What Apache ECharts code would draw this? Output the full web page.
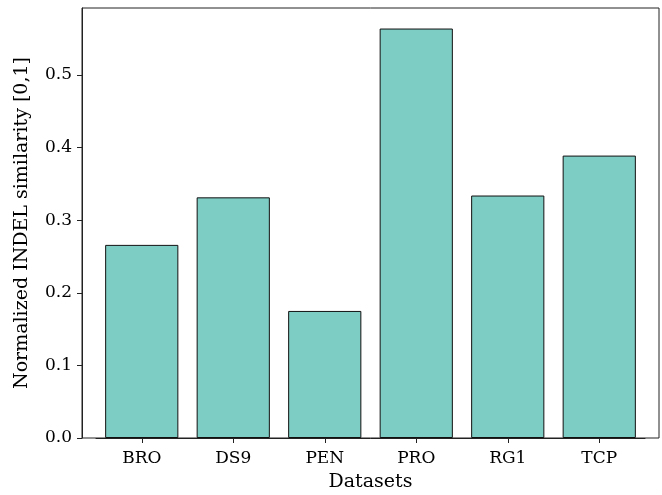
<!DOCTYPE html>
<html>
<head>
<meta charset="utf-8">
<script src="https://cdn.jsdelivr.net/npm/echarts@6/dist/echarts.min.js"></script>
<style>
html,body{margin:0;padding:0;background:#fff;}
#chart{width:662px;height:495px;}
</style>
</head>
<body>
<div id="chart"></div>
<script>
const categories = ['BRO', 'DS9', 'PEN', 'PRO', 'RG1', 'TCP'];
const similarity = [0.266, 0.3315, 0.175, 0.564, 0.334, 0.389];
const yTicks = [0.0, 0.1, 0.2, 0.3, 0.4, 0.5];

const FONT = 'DejaVu Serif';
const yMax = 0.5923;
const chart = echarts.init(document.getElementById('chart'), null, {renderer: 'canvas'});
chart.setOption({
  animation: false,
  backgroundColor: '#fff',
  grid: [
    {left: 82, top: 8, width: 577, height: 430, containLabel: false, outerBoundsMode: 'none',
     show: true, borderColor: '#222', borderWidth: 1, backgroundColor: 'transparent'},
    {left: 96, top: 8, width: 549, height: 430, containLabel: false, outerBoundsMode: 'none'}
  ],
  xAxis: [
    {
      gridIndex: 0, type: 'value', min: 0, max: 1,
      axisLine: {show: false}, axisTick: {show: false}, axisLabel: {show: false}, splitLine: {show: false},
      name: 'Datasets', nameLocation: 'middle', nameGap: 35,
      nameTextStyle: {fontFamily: FONT, fontSize: 19, color: '#000'}
    },
    {
      gridIndex: 1, type: 'category', data: categories,
      axisLine: {show: true, lineStyle: {color: '#222', width: 1}},
      axisTick: {show: true, alignWithLabel: true, length: 5, lineStyle: {color: '#222'}},
      axisLabel: {fontFamily: FONT, fontSize: 17, color: '#000', margin: 12},
      splitLine: {show: false}
    }
  ],
  yAxis: [
    {
      gridIndex: 0, type: 'value', min: 0, max: yMax,
      axisLine: {show: true, lineStyle: {color: '#222', width: 1}},
      axisTick: {show: true, length: 5, customValues: yTicks, lineStyle: {color: '#222'}},
      axisLabel: {fontFamily: FONT, fontSize: 17, color: '#000', margin: 10,
        customValues: yTicks, formatter: v => v.toFixed(1)},
      splitLine: {show: false},
      name: 'Normalized INDEL similarity [0,1]', nameLocation: 'middle', nameGap: 50, nameRotate: 90,
      nameTextStyle: {fontFamily: FONT, fontSize: 19, color: '#000'}
    },
    {
      gridIndex: 1, type: 'value', min: 0, max: yMax, show: false, splitLine: {show: false}
    }
  ],
  series: [{
    type: 'bar', xAxisIndex: 1, yAxisIndex: 1,
    data: similarity, barWidth: '80%',
    itemStyle: {color: '#7ecdc4', borderColor: '#111', borderWidth: 1}
  }]
});
</script>
</body>
</html>
